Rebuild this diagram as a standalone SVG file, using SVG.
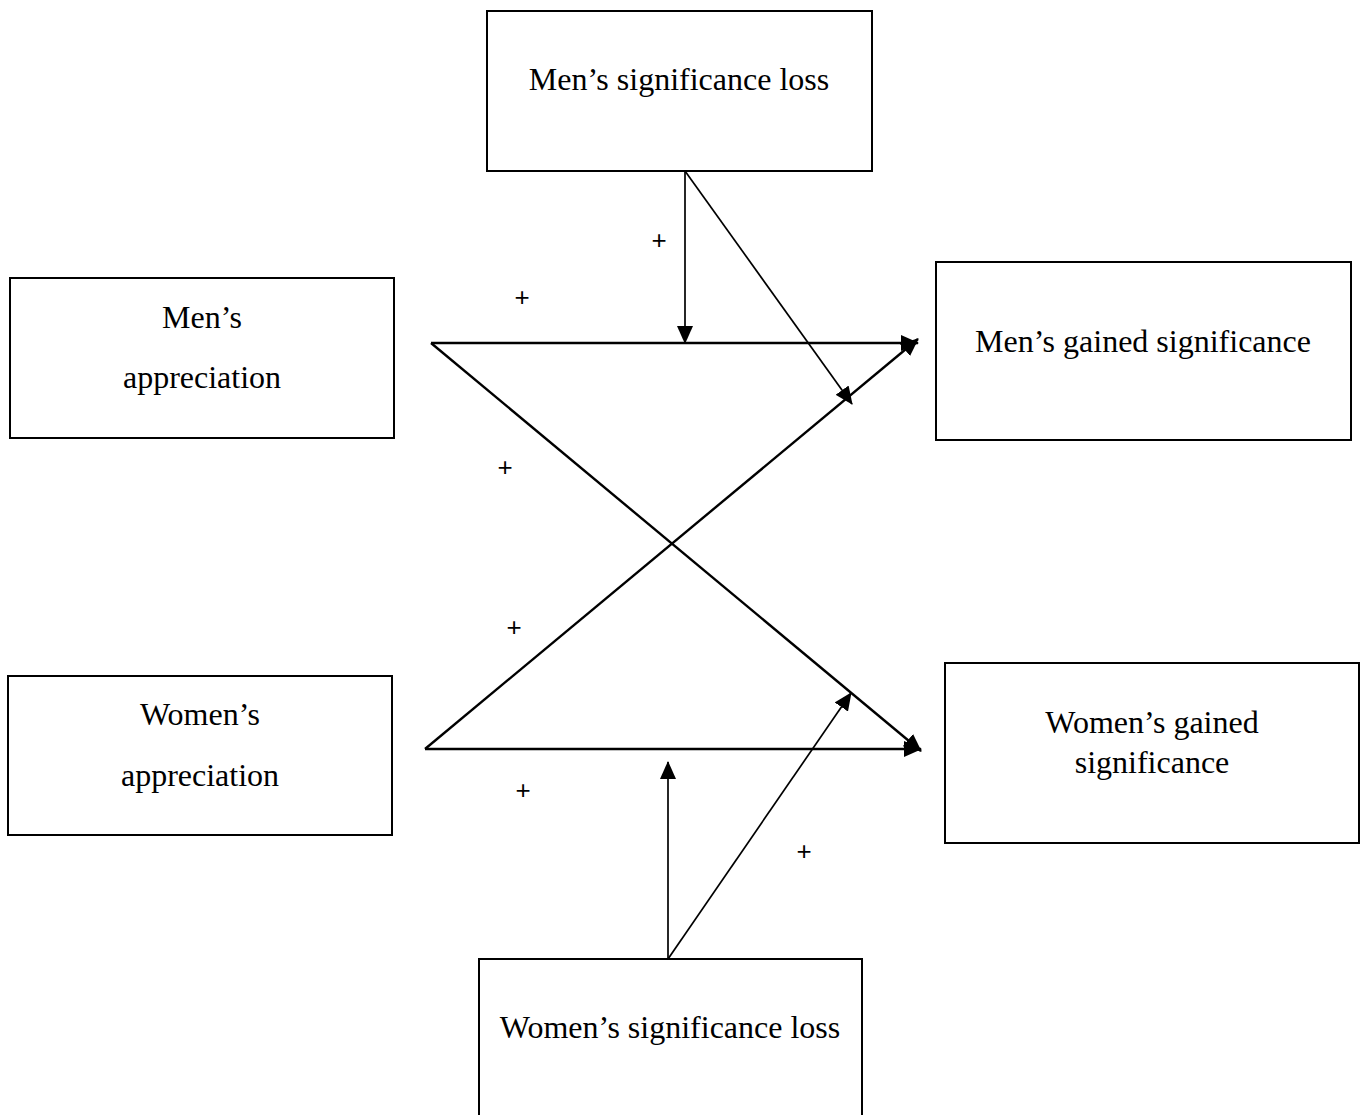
<svg xmlns="http://www.w3.org/2000/svg" width="1367" height="1115" viewBox="0 0 1367 1115">
<style>
.box{fill:#fff;stroke:#000;stroke-width:2}
.t{font-family:"Liberation Serif","Times New Roman",serif;font-size:32px;fill:#000;text-anchor:middle}
.p{font-family:"Liberation Sans",Arial,sans-serif;font-size:26px;fill:#000;text-anchor:middle}
.c{stroke:#000;stroke-width:2.4;fill:none}
.c2{stroke:#000;stroke-width:1.7;fill:none}
</style>
<defs>
<marker id="ah" markerWidth="18" markerHeight="16" refX="17" refY="8" orient="auto" markerUnits="userSpaceOnUse">
<path d="M0,0 L18,8 L0,16 Z" fill="#000"/>
</marker>
</defs>
<rect width="1367" height="1115" fill="#fff"/>
<g id="connectors">
<line class="c" x1="431" y1="343" x2="918" y2="343" marker-end="url(#ah)"/>
<line class="c" x1="431" y1="343" x2="921" y2="751" marker-end="url(#ah)"/>
<line class="c" x1="425" y1="749" x2="921" y2="749" marker-end="url(#ah)"/>
<line class="c" x1="425" y1="749" x2="918" y2="339" marker-end="url(#ah)"/>
<line class="c2" x1="685" y1="171" x2="685" y2="343" marker-end="url(#ah)"/>
<line class="c2" x1="685" y1="171" x2="852" y2="404" marker-end="url(#ah)"/>
<line class="c2" x1="668" y1="959" x2="668" y2="762" marker-end="url(#ah)"/>
<line class="c2" x1="668" y1="959" x2="851" y2="693" marker-end="url(#ah)"/>
</g>
<g id="plus">
<text class="p" x="659" y="249">+</text>
<text class="p" x="522" y="306">+</text>
<text class="p" x="505" y="476">+</text>
<text class="p" x="514" y="636">+</text>
<text class="p" x="523" y="799">+</text>
<text class="p" x="804" y="860">+</text>
</g>
<g id="mens-loss">
<rect class="box" x="487" y="11" width="385" height="160"/>
<text class="t" x="679" y="90">Men’s significance loss</text>
</g>
<g id="mens-appreciation">
<rect class="box" x="10" y="278" width="384" height="160"/>
<text class="t" x="202" y="328">Men’s</text>
<text class="t" x="202" y="388">appreciation</text>
</g>
<g id="mens-gained">
<rect class="box" x="936" y="262" width="415" height="178"/>
<text class="t" x="1143" y="352">Men’s gained significance</text>
</g>
<g id="womens-appreciation">
<rect class="box" x="8" y="676" width="384" height="159"/>
<text class="t" x="200" y="725">Women’s</text>
<text class="t" x="200" y="786">appreciation</text>
</g>
<g id="womens-gained">
<rect class="box" x="945" y="663" width="414" height="180"/>
<text class="t" x="1152" y="733">Women’s gained</text>
<text class="t" x="1152" y="773">significance</text>
</g>
<g id="womens-loss">
<rect class="box" x="479" y="959" width="383" height="160"/>
<text class="t" x="670" y="1038">Women’s significance loss</text>
</g>
</svg>
